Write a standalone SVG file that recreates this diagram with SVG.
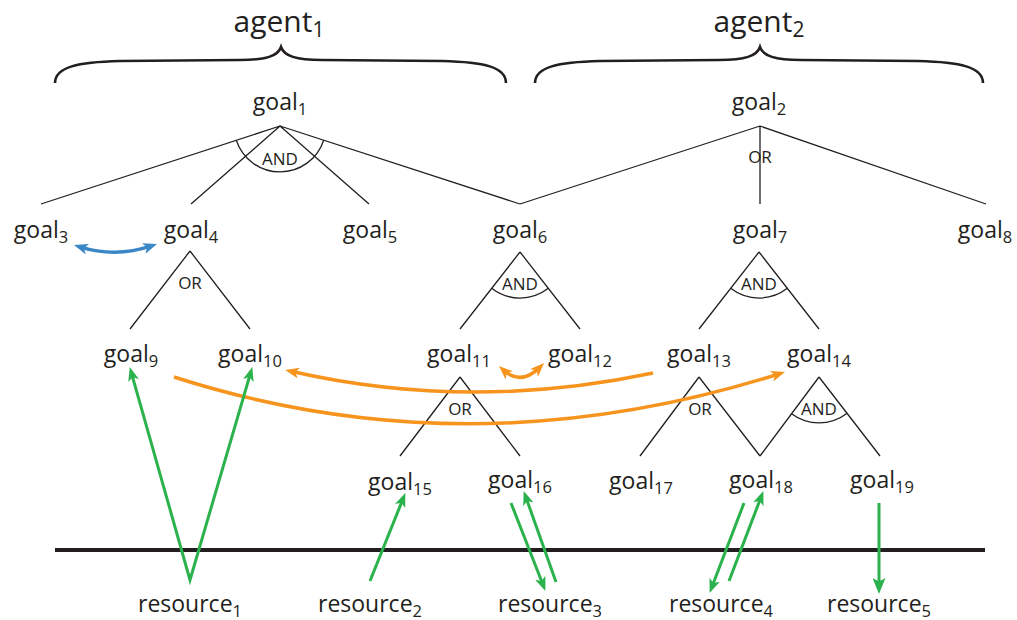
<svg xmlns="http://www.w3.org/2000/svg" width="1017" height="620" viewBox="0 0 1017 620">
<style>
text{font-family:"Open Sans","DejaVu Sans",sans-serif;fill:#231f20}
.g{font-size:23px}
.s{font-size:16.5px}
.ag{font-size:30px}
.as{font-size:21px}
.op{font-size:17px;text-anchor:middle}
.t{fill:none;stroke:#231f20;stroke-width:1.3}
.br{fill:none;stroke:#231f20;stroke-width:2.6}
.gr{fill:none;stroke:#2bb24c;stroke-width:3}
.or{fill:none;stroke:#f7941d;stroke-width:3.5}
.bl{fill:none;stroke:#3a87c8;stroke-width:3.5}
</style>
<defs>
<marker id="mg" viewBox="0 0 14 11" refX="8" refY="5.5" markerWidth="14" markerHeight="11" markerUnits="userSpaceOnUse" orient="auto-start-reverse"><path d="M0,0 L14,5.5 L0,11 L3.5,5.5 z" fill="#2bb24c"/></marker>
<marker id="mg5" viewBox="0 0 16 13" refX="8" refY="6.5" markerWidth="16" markerHeight="13" markerUnits="userSpaceOnUse" orient="auto-start-reverse"><path d="M0,0 L16,6.5 L0,13 L3.5,6.5 z" fill="#2bb24c"/></marker>
<marker id="mo" viewBox="0 0 14 11" refX="8" refY="5.5" markerWidth="14" markerHeight="11" markerUnits="userSpaceOnUse" orient="auto-start-reverse"><path d="M0,0 L14,5.5 L0,11 L3.5,5.5 z" fill="#f7941d"/></marker>
<marker id="mb" viewBox="0 0 14 11" refX="8" refY="5.5" markerWidth="14" markerHeight="11" markerUnits="userSpaceOnUse" orient="auto-start-reverse"><path d="M0,0 L14,5.5 L0,11 L3.5,5.5 z" fill="#3a87c8"/></marker>
</defs>

<g id="agent1">
<path class="br" d="M55,83 C55,67 78,62 120,61 L240,60 C266,60 278,56 281,47 C284,56 296,60 322,60 L442,61 C484,62 506,67 506,83"/>
<text class="ag" x="279" y="32" text-anchor="middle">agent<tspan class="as" dy="5">1</tspan></text>
</g>
<g id="agent2">
<path class="br" d="M535,83 C535,67 558,62 600,61 L719,60 C745,60 757,56 760,47 C763,56 775,60 801,60 L918,61 C960,62 983,67 983,83"/>
<text class="ag" x="759" y="32" text-anchor="middle">agent<tspan class="as" dy="5">2</tspan></text>
</g>

<g id="connectors">
<path class="t" d="M280,126 L41,204 M280,126 L191,204 M280,126 L369,204 M280,126 L520,204"/>
<path class="t" d="M236.3,140.3 A46,46 0 0 0 323.7,140.2"/>
<path class="t" d="M760,126 L520,204 M760,126 L760,204 M760,126 L986,204"/>
<path class="t" d="M190,251 L130,329 M190,251 L250,329"/>
<path class="t" d="M520,252 L460,329 M520,252 L580,329"/>
<path class="t" d="M491.7,288.3 A46,46 0 0 0 548.3,288.3"/>
<path class="t" d="M759,252 L699,329 M759,252 L819,329"/>
<path class="t" d="M730.7,288.3 A46,46 0 0 0 787.3,288.3"/>
<path class="t" d="M460,377 L400,456 M460,377 L520,456"/>
<path class="t" d="M699,377 L640,456 M699,377 L760,456"/>
<path class="t" d="M819,377 L760,456 M819,377 L880,456"/>
<path class="t" d="M791.2,413.6 A46,46 0 0 0 846.8,413.6"/>
<line x1="55" y1="550" x2="985" y2="550" stroke="#231f20" stroke-width="4"/>
<path class="bl" d="M79.7,246.8 Q116,258 151.3,245.9" marker-start="url(#mb)" marker-end="url(#mb)"/>
<path class="or" d="M653,373 Q469,412 291,371.3" marker-end="url(#mo)"/>
<path class="or" d="M174,377 Q470,472 779.3,373.8" marker-end="url(#mo)"/>
<path class="or" d="M503.4,370 Q521,386 539.8,367.2" marker-start="url(#mo)" marker-end="url(#mo)"/>
<path class="gr" d="M131.4,372.8 L190,580 L250.6,372.8" marker-start="url(#mg)" marker-end="url(#mg)"/>
<line class="gr" x1="370" y1="581" x2="403.1" y2="498.6" marker-end="url(#mg)"/>
<line class="gr" x1="511" y1="503" x2="543.2" y2="585.3" marker-end="url(#mg)"/>
<line class="gr" x1="556" y1="582" x2="525.7" y2="496.7" marker-end="url(#mg)"/>
<line class="gr" x1="744" y1="503" x2="711.8" y2="587.3" marker-end="url(#mg)"/>
<line class="gr" x1="729" y1="581" x2="761.2" y2="496.7" marker-end="url(#mg)"/>
<line class="gr" x1="879" y1="503" x2="879" y2="586" stroke-width="5" marker-end="url(#mg5)"/>
</g>

<g id="op-labels">
<text class="op" x="280" y="165">AND</text>
<text class="op" x="760" y="163">OR</text>
<text class="op" x="190" y="289">OR</text>
<text class="op" x="520" y="290">AND</text>
<text class="op" x="759" y="290">AND</text>
<text class="op" x="460" y="415">OR</text>
<text class="op" x="700" y="415">OR</text>
<text class="op" x="819" y="415">AND</text>
</g>

<g id="goal1"><text class="g" x="280" y="110" text-anchor="middle">goal<tspan class="s" dy="5">1</tspan></text></g>
<g id="goal2"><text class="g" x="759" y="110" text-anchor="middle">goal<tspan class="s" dy="5">2</tspan></text></g>
<g id="goal3"><text class="g" x="41" y="238" text-anchor="middle">goal<tspan class="s" dy="5">3</tspan></text></g>
<g id="goal4"><text class="g" x="191" y="238" text-anchor="middle">goal<tspan class="s" dy="5">4</tspan></text></g>
<g id="goal5"><text class="g" x="370" y="238" text-anchor="middle">goal<tspan class="s" dy="5">5</tspan></text></g>
<g id="goal6"><text class="g" x="520" y="238" text-anchor="middle">goal<tspan class="s" dy="5">6</tspan></text></g>
<g id="goal7"><text class="g" x="760" y="238" text-anchor="middle">goal<tspan class="s" dy="5">7</tspan></text></g>
<g id="goal8"><text class="g" x="985" y="238" text-anchor="middle">goal<tspan class="s" dy="5">8</tspan></text></g>
<g id="goal9"><text class="g" x="131" y="362" text-anchor="middle">goal<tspan class="s" dy="5">9</tspan></text></g>
<g id="goal10"><text class="g" x="250" y="362" text-anchor="middle">goal<tspan class="s" dy="5">10</tspan></text></g>
<g id="goal11"><text class="g" x="459" y="362" text-anchor="middle">goal<tspan class="s" dy="5">11</tspan></text></g>
<g id="goal12"><text class="g" x="580" y="362" text-anchor="middle">goal<tspan class="s" dy="5">12</tspan></text></g>
<g id="goal13"><text class="g" x="699" y="362" text-anchor="middle">goal<tspan class="s" dy="5">13</tspan></text></g>
<g id="goal14"><text class="g" x="819" y="362" text-anchor="middle">goal<tspan class="s" dy="5">14</tspan></text></g>
<g id="goal15"><text class="g" x="400" y="490" text-anchor="middle">goal<tspan class="s" dy="5">15</tspan></text></g>
<g id="goal16"><text class="g" x="520" y="488" text-anchor="middle">goal<tspan class="s" dy="5">16</tspan></text></g>
<g id="goal17"><text class="g" x="641" y="489" text-anchor="middle">goal<tspan class="s" dy="5">17</tspan></text></g>
<g id="goal18"><text class="g" x="761" y="488" text-anchor="middle">goal<tspan class="s" dy="5">18</tspan></text></g>
<g id="goal19"><text class="g" x="882" y="488" text-anchor="middle">goal<tspan class="s" dy="5">19</tspan></text></g>

<g id="resource1"><text class="g" x="190" y="612" text-anchor="middle">resource<tspan class="s" dy="5">1</tspan></text></g>
<g id="resource2"><text class="g" x="370" y="612" text-anchor="middle">resource<tspan class="s" dy="5">2</tspan></text></g>
<g id="resource3"><text class="g" x="550" y="612" text-anchor="middle">resource<tspan class="s" dy="5">3</tspan></text></g>
<g id="resource4"><text class="g" x="721" y="612" text-anchor="middle">resource<tspan class="s" dy="5">4</tspan></text></g>
<g id="resource5"><text class="g" x="879" y="612" text-anchor="middle">resource<tspan class="s" dy="5">5</tspan></text></g>
</svg>
